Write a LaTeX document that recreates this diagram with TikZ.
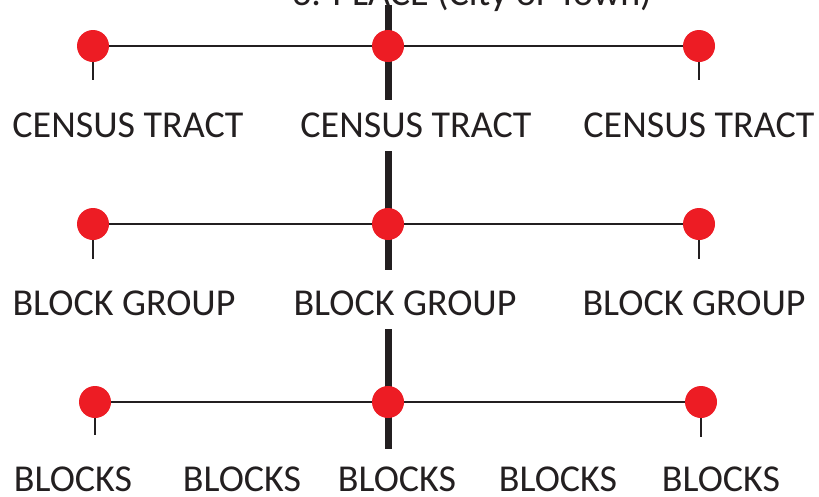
\documentclass[tikz,border=0pt]{standalone}
\usepackage{fontspec}
\setmainfont{Carlito}
\usetikzlibrary{positioning, backgrounds}
\definecolor{pinred}{HTML}{ED1C24}
\definecolor{inkgray}{HTML}{231F20}

\begin{document}
\begin{tikzpicture}[
            x=1pt, y=-1pt,
            pin/.style={circle, fill=pinred, inner sep=0pt, minimum size=32pt},
            lbl/.style={anchor=base, inner sep=0pt, text=inkgray,
                    font=\fontsize{38}{40}\selectfont},
            link/.style={line width=2.7pt, draw=inkgray},
            spine/.style={line width=7pt, draw=inkgray},
            ]
            \useasboundingbox (0,0) rectangle (819,496);

            % place (top, cut by the page edge)
            \node[lbl] (place) at (472,5) {3. PLACE (City or Town)};

            % census tracts
            \node[pin] (t1) at (93,46) {};
            \node[pin] (t2) at (388,46) {};
            \node[pin] (t3) at (699,46) {};
            \coordinate (t1s) at (93,80);
            \coordinate (t3s) at (699,80);
            \node[lbl] (tl1) at (128,137) {CENSUS TRACT};
            \node[lbl] (tl2) at (416,137) {CENSUS TRACT};
            \node[lbl] (tl3) at (699,137) {CENSUS TRACT};

            % block groups
            \node[pin] (g1) at (93,224) {};
            \node[pin] (g2) at (388,224) {};
            \node[pin] (g3) at (699,224) {};
            \coordinate (g1s) at (93,259);
            \coordinate (g3s) at (699,259);
            \node[lbl] (gl1) at (124,315) {BLOCK GROUP};
            \node[lbl] (gl2) at (405,315) {BLOCK GROUP};
            \node[lbl] (gl3) at (694,315) {BLOCK GROUP};

            % blocks
            \node[pin] (b1) at (95,402) {};
            \node[pin] (b2) at (388,402) {};
            \node[pin] (b3) at (701,402) {};
            \coordinate (b1s) at (95,435);
            \coordinate (b3s) at (701,437);
            \node[lbl] (bl1) at (73,491) {BLOCKS};
            \node[lbl] (bl2) at (242,491) {BLOCKS};
            \node[lbl] (bl3) at (397,491) {BLOCKS};
            \node[lbl] (bl4) at (558,491) {BLOCKS};
            \node[lbl] (bl5) at (721,491) {BLOCKS};

            % spine pieces
            \coordinate (s0) at (388,5);
            \coordinate (s1) at (388,100);
            \coordinate (s2) at (388,151);
            \coordinate (s3) at (388,270);
            \coordinate (s4) at (388,329);
            \coordinate (s5) at (388,449);

            \begin{scope}[on background layer]
                \draw[spine] (s0) -- (s1);
                \draw[spine] (s2) -- (s3);
                \draw[spine] (s4) -- (s5);
                \draw[link] (t1) -- (t3);
                \draw[link] (g1) -- (g3);
                \draw[link] (b1) -- (b3);
                \draw[link] (t1) -- (t1s);
                \draw[link] (t3) -- (t3s);
                \draw[link] (g1) -- (g1s);
                \draw[link] (g3) -- (g3s);
                \draw[link] (b1) -- (b1s);
                \draw[link] (b3) -- (b3s);
            \end{scope}

        \end{tikzpicture}
\end{document}
